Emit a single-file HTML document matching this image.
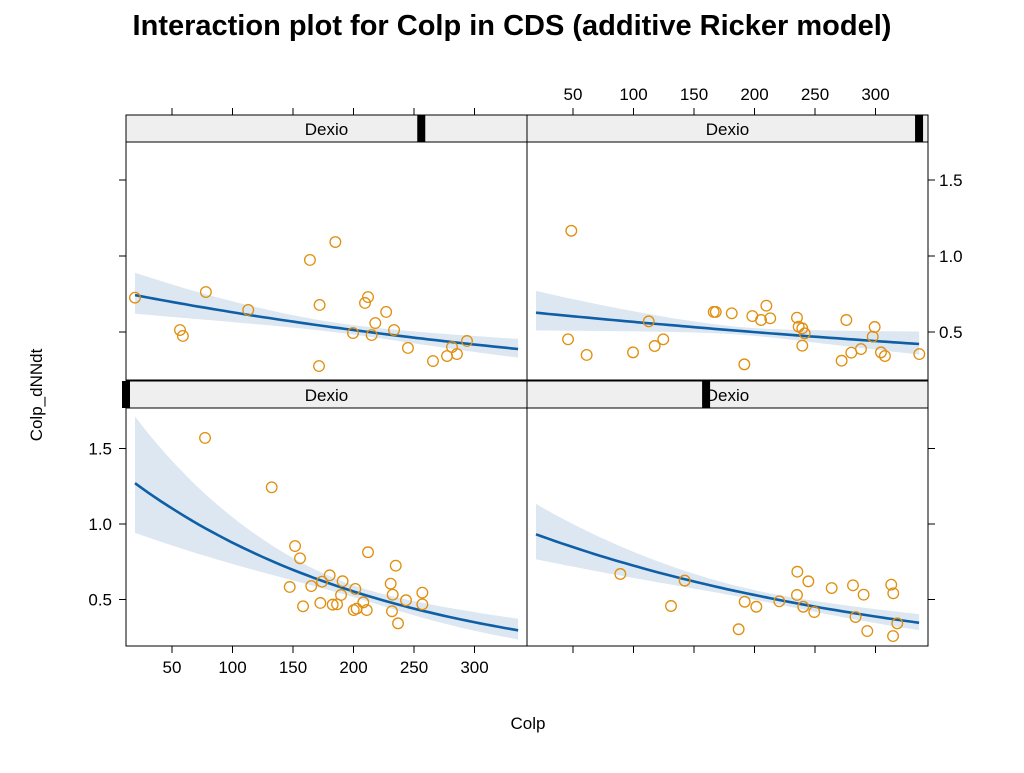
<!DOCTYPE html>
<html><head><meta charset="utf-8"><style>
body{margin:0;background:#fff}
text{font-family:"Liberation Sans",Arial,sans-serif}
</style></head><body>
<svg id="chart" width="1024" height="768" xmlns="http://www.w3.org/2000/svg">
<text x="512" y="35" text-anchor="middle" font-size="29" font-weight="bold">Interaction plot for Colp in CDS (additive Ricker model)</text>
<text x="528" y="729" text-anchor="middle" font-size="17">Colp</text>
<text transform="translate(42,395) rotate(-90)" text-anchor="middle" font-size="17">Colp_dNNdt</text>
<g id="layer"></g>
</svg>
<script>
const xTicks=[50,100,150,200,250,300];
const yTicks=[0.5,1.0,1.5];
const yTickLabels=["0.5","1.0","1.5"];
const tlX=[19.4,56.6,59,78,113,164,185,172,171.5,212,209.5,199.6,215,218,227,233.5,245,265.7,277.3,281.4,285.5,293.8];
const tlY=[0.726,0.513,0.474,0.763,0.645,0.974,1.092,0.678,0.276,0.730,0.691,0.493,0.480,0.559,0.632,0.513,0.395,0.309,0.342,0.401,0.355,0.441];
const trX=[48.6,45.9,61.3,99.6,112.6,117.5,124.6,166.3,168,181.2,191.6,198.2,205.4,209.8,213,235.1,236.5,239.5,241.5,239.5,272,275.9,280,288,299.3,297.7,304.5,307.8,336.2];
const trY=[1.166,0.452,0.349,0.366,0.570,0.408,0.452,0.632,0.632,0.623,0.287,0.605,0.579,0.673,0.590,0.594,0.535,0.524,0.491,0.410,0.311,0.579,0.364,0.388,0.533,0.469,0.366,0.342,0.355];
const blX=[77.3,132.4,151.7,155.8,147.3,158.3,165.1,174,180.3,172.6,182.8,186.4,191,189.7,201.5,200.2,202.6,208.1,210.9,212,234.9,230.7,232.4,231.8,236.8,243.4,256.9,256.9];
const blY=[1.570,1.243,0.854,0.773,0.583,0.455,0.589,0.618,0.660,0.477,0.466,0.468,0.621,0.530,0.570,0.430,0.439,0.481,0.430,0.813,0.724,0.605,0.532,0.422,0.342,0.495,0.545,0.468];
const brX=[89.1,142.3,131,186.9,191.9,201.5,220.5,235.4,244.5,235.1,240.3,249.4,263.8,281.4,290.2,283.5,293.2,313,314.7,318,314.5];
const brY=[0.669,0.625,0.457,0.303,0.485,0.452,0.488,0.684,0.620,0.530,0.452,0.417,0.576,0.594,0.532,0.384,0.291,0.598,0.541,0.342,0.258];
const xFit=[19.4,336];
const fitTL=[0.743,0.388], ciTL=[0.06,0.001,190];
const fitTR=[0.627,0.421], ciTR=[0.05,0.00117,190];
const fitBL=[1.27,0.296], ciBL=[0.07,0.00161,200];
const fitBR=[0.932,0.346], ciBR=[0.06,0.00103,200];
const stripMarks=[256,336,-10,160];

const NS="http://www.w3.org/2000/svg";
const L=document.getElementById('layer');
function mk(t,a,p){const e=document.createElementNS(NS,t);for(const k in a)e.setAttribute(k,a[k]);(p||L).appendChild(e);return e;}
const panels=[
 {name:'top-left',col:0,row:0,xs:tlX,ys:tlY,fit:fitTL,ci:ciTL,m:stripMarks[0]},
 {name:'top-right',col:1,row:0,xs:trX,ys:trY,fit:fitTR,ci:ciTR,m:stripMarks[1]},
 {name:'bottom-left',col:0,row:1,xs:blX,ys:blY,fit:fitBL,ci:ciBL,m:stripMarks[2]},
 {name:'bottom-right',col:1,row:1,xs:brX,ys:brY,fit:fitBR,ci:ciBR,m:stripMarks[3]}];
const PW=401;
panels.forEach((p,i)=>{
 const left=126+p.col*PW, right=left+PW;
 const top=p.row?408:142, bot=p.row?646:380, stripTop=top-27;
 const sx=x=>111.5+p.col*PW+1.21*x;
 const sy=y=>p.row?675-151*y:408-152*y;
 const g=mk('g',{});
 
 
 const cid='clip'+i;
 const cp=mk('clipPath',{id:cid},g);mk('rect',{x:left,y:top,width:PW,height:bot-top},cp);
 const d=mk('g',{'clip-path':`url(#${cid})`},g);
 const l0=Math.log(p.fit[0]),l1=Math.log(p.fit[1]);
 const f=x=>l0+(l1-l0)*(x-xFit[0])/(xFit[1]-xFit[0]);
 const hw=x=>Math.sqrt(p.ci[0]**2+(p.ci[1]*(x-p.ci[2]))**2);
 let up=[],lo=[],ln=[];
 for(let k=0;k<=60;k++){const x=xFit[0]+(xFit[1]-xFit[0])*k/60;
  up.push(sx(x).toFixed(1)+','+sy(Math.exp(f(x)+hw(x))).toFixed(1));
  lo.unshift(sx(x).toFixed(1)+','+sy(Math.exp(f(x)-hw(x))).toFixed(1));
  ln.push(sx(x).toFixed(1)+','+sy(Math.exp(f(x))).toFixed(1));}
 const band=mk('polygon',{points:up.concat(lo).join(' '),fill:'#dce7f1'},d);
 
 
 const line=mk('polyline',{points:ln.join(' '),fill:'none',stroke:'#0e5fa6','stroke-width':2.6},d);
 
 
 p.xs.forEach((x,j)=>{const c=mk('circle',{cx:sx(x),cy:sy(p.ys[j]),r:5.3,fill:'none',stroke:'#e08e0b','stroke-width':1.3},d);
  
  });
 mk('rect',{x:left,y:top,width:PW,height:bot-top,fill:'none',stroke:'#000','stroke-width':1},g);
 const s=mk('rect',{x:left,y:stripTop,width:PW,height:27,fill:'#efefef',stroke:'#000','stroke-width':1},g);
 
 
 mk('rect',{x:Math.max(left-4,sx(p.m)-4),y:stripTop,width:8,height:27,fill:'#000'},g);
 const st=mk('text',{x:left+PW/2,y:stripTop+20,'text-anchor':'middle','font-size':17},g);st.textContent='Dexio';
 
 
 xTicks.forEach(t=>{const X=sx(t);
  if(p.row===1){mk('line',{x1:X,x2:X,y1:bot,y2:bot+7,stroke:'#000'},g);
   if(p.col===0){const tx=mk('text',{x:X,y:bot+27,'text-anchor':'middle','font-size':17},g);tx.textContent=t;
    
    }}
  else{mk('line',{x1:X,x2:X,y1:stripTop,y2:stripTop-7,stroke:'#000'},g);
   if(p.col===1){const tx=mk('text',{x:X,y:stripTop-15,'text-anchor':'middle','font-size':17},g);tx.textContent=t;
    
    }}});
 yTicks.forEach((t,j)=>{const Y=sy(t); if(Y<top||Y>bot)return;
  if(p.col===0){mk('line',{x1:left,x2:left-7,y1:Y,y2:Y,stroke:'#000'},g);
   if(p.row===1){const tx=mk('text',{x:left-14,y:Y+6,'text-anchor':'end','font-size':17},g);tx.textContent=yTickLabels[j];
    
    }}
  else{mk('line',{x1:right,x2:right+7,y1:Y,y2:Y,stroke:'#000'},g);
   if(p.row===0){const tx=mk('text',{x:right+11,y:Y+6,'text-anchor':'start','font-size':17},g);tx.textContent=yTickLabels[j];
    
    }}});
});
</script>
</body></html>
